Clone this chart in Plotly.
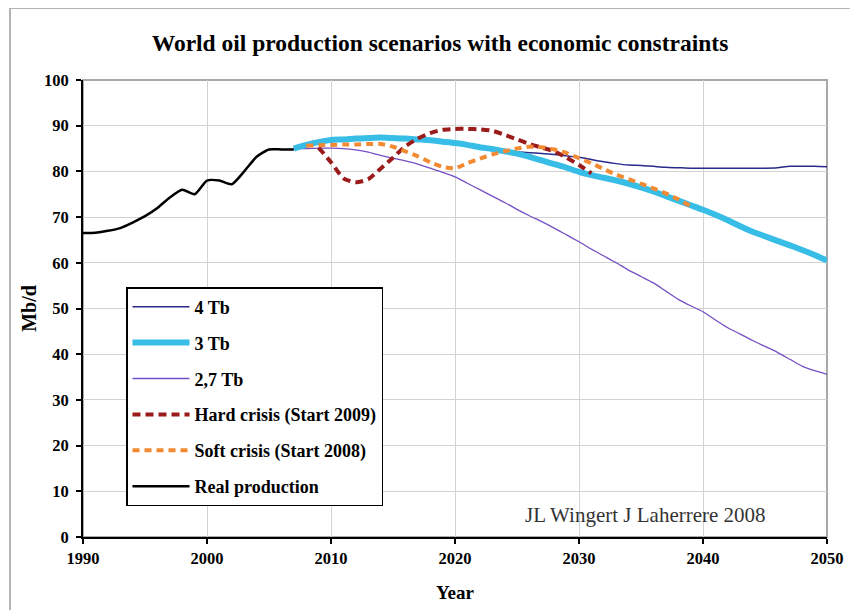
import plotly.graph_objects as go

# ---------------- data ----------------
years_real = list(range(1990, 2008))
real_production = [66.5, 66.6, 67.0, 67.6, 68.8, 70.2, 72.0, 74.3, 76.0, 75.0,
                   78.0, 78.0, 77.2, 80.0, 83.2, 84.8, 84.8, 84.8]

years_scn = list(range(2007, 2051))
tb4 = [85.0, 85.6, 86.1, 86.5, 86.8, 87.0, 87.1, 87.2, 87.1, 87.0,
       86.8, 86.5, 86.2, 85.9, 85.5, 85.1, 84.8, 84.5, 84.3, 84.1,
       83.9, 83.7, 83.4, 83.1, 82.6, 82.1, 81.7, 81.4, 81.3, 81.1,
       80.9, 80.8, 80.7, 80.7, 80.7, 80.7, 80.7, 80.7, 80.7, 80.8,
       81.1, 81.1, 81.1, 81.0]
tb3 = [85.0, 85.8, 86.4, 86.9, 87.0, 87.2, 87.3, 87.4, 87.3, 87.2,
       87.0, 86.8, 86.5, 86.2, 85.8, 85.3, 84.9, 84.4, 83.9, 83.2,
       82.4, 81.6, 80.8, 79.9, 79.2, 78.6, 78.0, 77.3, 76.5, 75.6,
       74.6, 73.6, 72.6, 71.6, 70.5, 69.3, 68.0, 66.8, 65.8, 64.8,
       63.8, 62.8, 61.7, 60.5]
tb27 = [85.0, 85.0, 85.1, 85.1, 85.0, 84.7, 84.2, 83.5, 82.9, 82.3,
        81.6, 80.7, 79.8, 78.8, 77.4, 76.0, 74.6, 73.2, 71.7, 70.3,
        69.0, 67.6, 66.1, 64.6, 63.0, 61.5, 60.0, 58.4, 57.0, 55.6,
        53.8, 52.0, 50.6, 49.3, 47.5, 45.8, 44.4, 43.0, 41.7, 40.4,
        38.9, 37.4, 36.4, 35.6]

years_hard = list(range(2009, 2032))
hard_crisis = [85.2, 82.0, 78.5, 77.6, 78.3, 80.6, 83.0, 85.5, 87.2, 88.4,
               89.1, 89.3, 89.3, 89.2, 88.9, 88.0, 87.0, 86.0, 85.2, 84.4,
               83.0, 81.4, 79.6]

years_soft = list(range(2008, 2040))
soft_crisis = [85.6, 85.7, 85.8, 85.9, 85.9, 86.0, 86.0, 85.4, 84.4, 83.3,
               82.0, 81.0, 80.7, 81.8, 82.8, 83.7, 84.4, 85.0, 85.4, 85.3,
               84.8, 84.0, 82.9, 81.8, 80.5, 79.3, 78.3, 77.3, 76.3, 75.2,
               73.9, 72.4]

x_ticks = [1990, 2000, 2010, 2020, 2030, 2040, 2050]
y_ticks = list(range(0, 101, 10))

# ---------------- figure ----------------
SERIF = "'Liberation Serif', 'Times New Roman', serif"

fig = go.Figure()

def add(x, y, name, color, width, dash="solid", rank=1):
    fig.add_trace(go.Scatter(
        x=x, y=y, name=name, mode="lines",
        line=dict(color=color, width=width, dash=dash, shape="spline", smoothing=0.6),
        legendgroup=name, legendrank=rank, hoverinfo="skip"))

add(years_scn, tb4, "4 Tb", "#2a2a8c", 1.5, rank=1)
add(years_scn, tb27, "2,7 Tb", "#7550c4", 1.3, rank=3)
add(years_scn, tb3, "3 Tb", "#38bde6", 6, rank=2)
add(years_hard, hard_crisis, "Hard crisis (Start 2009)", "#9b1b1b", 4, dash="8px,5px", rank=4)
add(years_soft, soft_crisis, "Soft crisis (Start 2008)", "#f18a32", 4, dash="7px,5px", rank=5)
add(years_real, real_production, "Real production", "#000000", 2.5, rank=6)

# outer chart border
fig.add_shape(type="rect", xref="paper", yref="paper",
              x0=-0.0981, x1=1.06, y0=-0.2, y1=1.1575,
              line=dict(color="#b4b4b4", width=2), layer="below")
# plot area top/right border
fig.add_shape(type="rect", xref="paper", yref="paper",
              x0=0, x1=1, y0=0, y1=1,
              line=dict(color="#a8a8a8", width=2), layer="below")

fig.add_annotation(x=2035.4, y=4.8, xref="x", yref="y",
                   text="JL Wingert J Laherrere 2008", showarrow=False,
                   font=dict(family=SERIF, size=21, color="#333333"))

fig.update_layout(
    width=858, height=610,
    margin=dict(l=75, r=39, t=72, b=81),
    paper_bgcolor="white", plot_bgcolor="white",
    title=dict(text="World oil production scenarios with economic constraints",
               x=0.5035, xanchor="center", y=0.9426, yanchor="middle",
               font=dict(family=SERIF, size=23.5, color="black", weight="bold")),
    xaxis=dict(range=[1990, 2050], tickvals=x_ticks,
               showgrid=True, gridcolor="#d2d2d2", gridwidth=1.3,
               showline=True, linecolor="black", linewidth=2,
               ticks="outside", ticklen=5, tickcolor="black", tickwidth=1.5,
               tickfont=dict(family=SERIF, size=16.5, color="black", weight="bold"),
               title=dict(text="Year", standoff=19,
                          font=dict(family=SERIF, size=19, color="black", weight="bold")),
               zeroline=False),
    yaxis=dict(range=[0, 100], tickvals=y_ticks,
               showgrid=True, gridcolor="#d2d2d2", gridwidth=1.3,
               showline=True, linecolor="black", linewidth=2,
               ticks="outside", ticklen=5, tickcolor="black", tickwidth=1.5,
               ticklabelstandoff=4,
               tickfont=dict(family=SERIF, size=16.5, color="black", weight="bold"),
               title=dict(text="Mb/d", standoff=2,
                          font=dict(family=SERIF, size=20, color="black", weight="bold")),
               zeroline=False),
    showlegend=True,
    legend=dict(x=0.0578, y=0.547, xanchor="left", yanchor="top",
                bgcolor="white", bordercolor="black", borderwidth=1.5,
                traceorder="grouped", tracegroupgap=9.5, itemwidth=57,
                font=dict(family=SERIF, size=18, color="black", weight="bold")),
)

fig.write_html("out.html")
